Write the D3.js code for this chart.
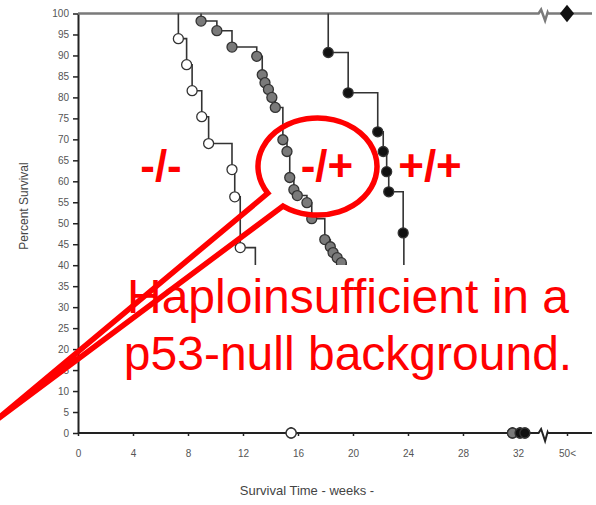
<!DOCTYPE html>
<html>
<head>
<meta charset="utf-8">
<script src="https://cdn.jsdelivr.net/npm/d3@7"></script>
<style>
	body { margin: 0; background: #fff; }
	text { font-family: Arial, "Liberation Sans", sans-serif; }
</style>
</head>
<body>
<div id="chart"></div>
<script>
// tick values and labels
var xTickValues = [0, 4, 8, 12, 16, 20, 24, 28, 32, 50];
var xTickLabels = ["0", "4", "8", "12", "16", "20", "24", "28", "32", "50<"];
var yTickValues = [0, 5, 10, 15, 20, 25, 30, 35, 40, 45, 50, 55, 60, 65, 70, 75, 80, 85, 90, 95, 100];

// -/- (open circles)
var nullWeeks = [7.3, 7.9, 8.3, 9.0, 9.5, 11.2, 11.4, 11.8, 12.9, 14.0, 15.5];
var nullPct = [94, 87.8, 81.6, 75.4, 69, 62.8, 56.3, 44.2, 31, 19, 0];

// -/+ (grey circles)
var hetWeeks = [8.95, 10.1, 11.2, 13.0, 13.4, 13.6, 13.85, 14.1, 14.35, 14.9, 15.2, 15.4, 15.7, 15.95, 16.65, 17.0, 17.95, 18.35, 18.55, 18.85, 19.15, 19.5, 20.5, 23.0, 26.0, 31.6];
var hetPct = [98.2, 95.9, 92, 89.8, 85.4, 83.5, 81.9, 80, 77.6, 69.9, 67.1, 60.9, 58, 56.6, 54.9, 51.1, 46.1, 44.4, 43, 41.8, 40.6, 38.4, 30, 20, 12, 0];

// +/+ (black circles)
var wtWeeks = [18.2, 19.65, 21.8, 22.2, 22.45, 22.6, 23.65, 23.7, 24.5, 26.0, 32.15, 32.5];
var wtPct = [90.7, 81.1, 71.8, 67.1, 62.3, 57.5, 47.7, 38, 28, 19, 0, 0];

// long-term survivor
var longWeeks = [50];
var longPct = [100];

var chartWidth = 596, chartHeight = 505;

var svg = d3.select("#chart").append("svg")
	.attr("width", chartWidth)
	.attr("height", chartHeight);

// broken x scale (32 ... 50<)
var x = d3.scaleLinear()
	.domain([0, 33.5, 48.5, 50, 51.8])
	.range([78, 538.6, 548, 567, 592]);

var y = d3.scaleLinear()
	.domain([0, 100])
	.range([433, 13.5]);

function zip(ws, ps) {
	return ws.map(function (w, i) { return [w, ps[i]]; });
}

//y axis
var yAxis = svg.append("g")
	.attr("transform", "translate(" + x(0) + ",0)")
	.call(d3.axisLeft(y).tickValues(yTickValues).tickSize(5).tickSizeOuter(0).tickPadding(4));
yAxis.select(".domain").attr("stroke", "#222").attr("stroke-width", 2);
yAxis.selectAll(".tick line").attr("stroke", "#222").attr("stroke-width", 1.5);
yAxis.selectAll(".tick text").attr("fill", "#555").attr("font-size", "10px")
	.attr("font-family", "Arial, 'Liberation Sans', sans-serif");

//x axis with a break
var xAxis = svg.append("g")
	.attr("transform", "translate(0," + y(0) + ")")
	.call(d3.axisBottom(x).tickValues(xTickValues)
		.tickFormat(function (d, i) { return xTickLabels[i]; })
		.tickSize(3).tickPadding(14));
xAxis.select(".domain").remove();
xAxis.selectAll(".tick line").attr("stroke", "#222").attr("stroke-width", 1.5);
xAxis.selectAll(".tick text").attr("fill", "#555").attr("font-size", "10px")
	.attr("font-family", "Arial, 'Liberation Sans', sans-serif");

function brokenPath(yv, up, down) {
	var b0 = x(33.5), b1 = x(48.5), yy = y(yv);
	return d3.line()([
		[x(0), yy], [b0, yy], [b0 + 2.5, yy - up], [b0 + 6.5, yy + down], [b0 + 9, yy - 1], [b1, yy], [x(51.8), yy]
	]);
}

svg.append("path")
	.attr("d", brokenPath(0, 4, 8))
	.attr("fill", "none")
	.attr("stroke", "#222")
	.attr("stroke-width", 2);

//100% line across the top
svg.append("path")
	.attr("d", brokenPath(100, 4, 7))
	.attr("fill", "none")
	.attr("stroke", "#7a7a7a")
	.attr("stroke-width", 2.5);

//survival curves
var step = d3.line()
	.x(function (d) { return x(d[0]); })
	.y(function (d) { return y(d[1]); })
	.curve(d3.curveStepAfter);

var series = [
	{ pts: zip(nullWeeks, nullPct), fill: "#ffffff" },
	{ pts: zip(hetWeeks, hetPct), fill: "#7a7a7a" },
	{ pts: zip(wtWeeks, wtPct), fill: "#111111" }
];

series.forEach(function (s) {
	var pts = [[s.pts[0][0], 100]].concat(s.pts);
	svg.append("path")
		.attr("d", step(pts))
		.attr("fill", "none")
		.attr("stroke", "#333")
		.attr("stroke-width", 1.6);
});

series.forEach(function (s) {
	svg.append("g").selectAll("circle")
		.data(s.pts)
		.enter()
		.append("circle")
		.attr("cx", function (d) { return x(d[0]); })
		.attr("cy", function (d) { return y(d[1]); })
		.attr("r", 5)
		.attr("fill", s.fill)
		.attr("stroke", "#333")
		.attr("stroke-width", 1.3);
});

//diamond
svg.append("g").selectAll("path")
	.data(zip(longWeeks, longPct))
	.enter()
	.append("path")
	.attr("d", d3.symbol(d3.symbolSquare).size(100))
	.attr("transform", function (d) {
		return "translate(" + x(d[0]) + "," + y(d[1]) + ") scale(1,1.25) rotate(45)";
	})
	.attr("fill", "#111");

//axis titles
svg.append("text")
	.attr("transform", "translate(28,206) rotate(-90)")
	.attr("text-anchor", "middle")
	.attr("font-size", "12px")
	.attr("fill", "#444")
	.text("Percent Survival");

svg.append("text")
	.attr("x", 307)
	.attr("y", 495)
	.attr("text-anchor", "middle")
	.attr("font-size", "13px")
	.attr("fill", "#444")
	.text("Survival Time - weeks -");

//white box behind the note
svg.append("rect")
	.attr("x", 84).attr("y", 265)
	.attr("width", 512).attr("height", 162)
	.attr("fill", "#fff");

//redraw points lying on the axis
series.forEach(function (s) {
	svg.append("g").selectAll("circle")
		.data(s.pts.filter(function (d) { return d[1] === 0; }))
		.enter()
		.append("circle")
		.attr("cx", function (d) { return x(d[0]); })
		.attr("cy", function (d) { return y(d[1]); })
		.attr("r", 5)
		.attr("fill", s.fill)
		.attr("stroke", "#333")
		.attr("stroke-width", 1.3);
});

//genotype labels
var red = "#ff0000";
[["-/-", 161], ["-/+", 327], ["+/+", 430]].forEach(function (l) {
	svg.append("text")
		.attr("x", l[1]).attr("y", 181)
		.attr("text-anchor", "middle")
		.attr("font-size", "44px")
		.attr("font-weight", "bold")
		.attr("fill", red)
		.text(l[0]);
});

//callout
var cx = 317.5, cy = 166.5, rx = 59.5, ry = 48.5;
var a1 = 146.6 * Math.PI / 180, a2 = 125.4 * Math.PI / 180;
var p1 = [cx + rx * Math.cos(a1), cy + ry * Math.sin(a1)];
var p2 = [cx + rx * Math.cos(a2), cy + ry * Math.sin(a2)];
svg.append("path")
	.attr("d", "M" + p1 + "L-5,421L" + p2 + "A" + rx + "," + ry + " 0 1 0 " + p1 + "Z")
	.attr("fill", "none")
	.attr("stroke", red)
	.attr("stroke-width", 5.5);

//note
[["Haploinsufficient in a", 313], ["p53-null background.", 370]].forEach(function (l) {
	svg.append("text")
		.attr("x", 348).attr("y", l[1])
		.attr("text-anchor", "middle")
		.attr("font-size", "48px")
		.attr("fill", red)
		.text(l[0]);
});
</script>
</body>
</html>
